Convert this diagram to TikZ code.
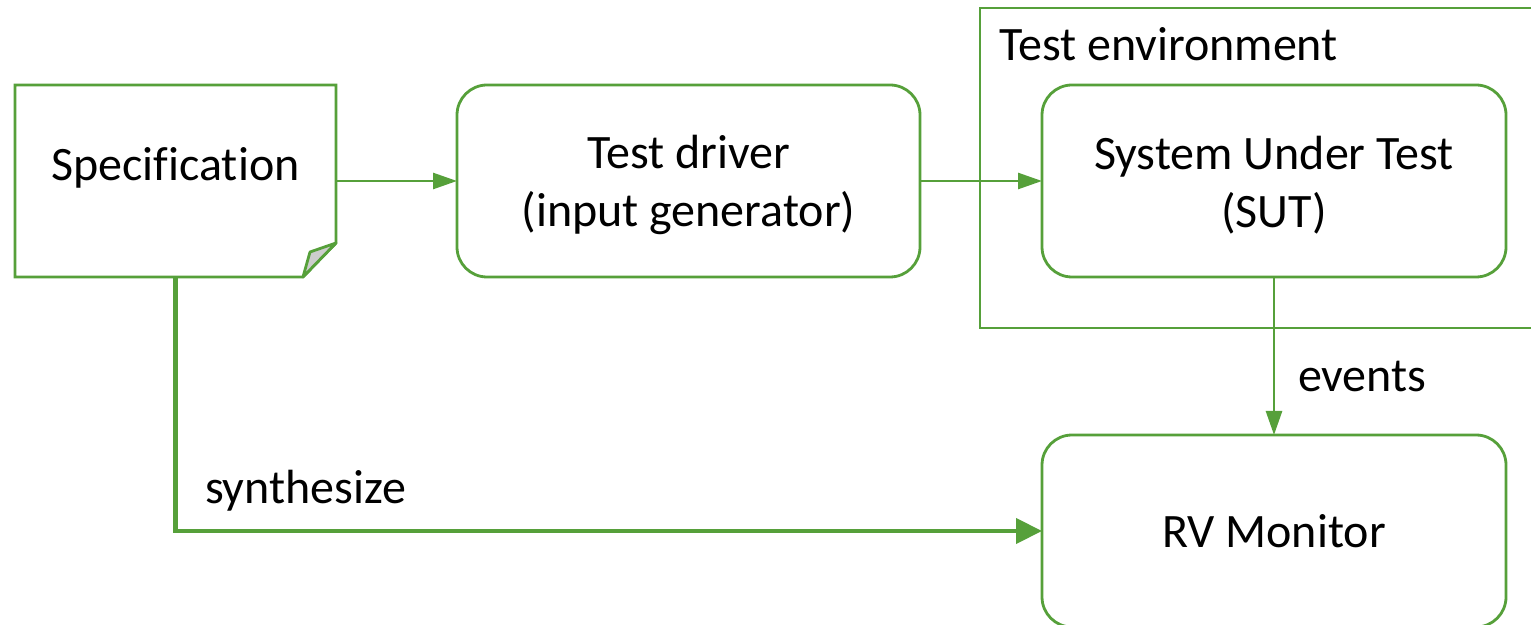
\documentclass[tikz,border=0pt]{standalone}
\usepackage{fontspec}
\setmainfont{Carlito}[Ligatures=CommonOff]
\usetikzlibrary{arrows.meta}
\definecolor{grn}{RGB}{86,160,58}
\definecolor{foldgray}{RGB}{205,205,205}
\newcommand{\toppad}{\rule{0pt}{20.5pt}}
\begin{document}
\begin{tikzpicture}[x=0.5pt,y=-0.5pt,
  every node/.style={font=\fontsize{24pt}{29pt}\selectfont, inner sep=0pt, outer sep=0pt},
  box/.style={draw=grn, line width=1.4pt, rounded corners=15pt, minimum width=232pt, minimum height=96pt, align=center},
  conn/.style={draw=grn, line width=1.3pt, -{Triangle[length=12pt,width=8pt]}},
  thickconn/.style={draw=grn, line width=2.1pt, -{Triangle[length=13pt,width=12.5pt]}},
  lbl/.style={anchor=base west}
]
\useasboundingbox (0,0) rectangle (1531,625);
\clip (0,0) rectangle (1531,625);

% test environment frame
\draw[draw=grn, line width=1.4pt] (980,8) rectangle (1560,328);
\node[lbl] (envlabel) at (999,61) {Test environment};

% specification (document shape)
\node[minimum width=160.5pt, minimum height=96pt] (spec) at (175.5,181) {};
\draw[draw=grn, line width=1.4pt, line join=miter]
  (spec.north west) -- (spec.north east) -- (336,243) -- (303,277) -- (spec.south west) -- cycle;
\draw[draw=grn, line width=1.4pt, fill=foldgray, line join=round]
  (336,243) -- (310,252) -- (303,277) -- cycle;
\node (spectext) at (175.5,168) {Specification};

% boxes
\node[box, minimum width=231.5pt] (driver) at (688.5,181) {\toppad Test driver\\(input generator)};
\node[box] (sut) at (1274,181) {\toppad System Under Test\\(SUT)};
\node[box] (rv) at (1274,531) {RV Monitor};

% connectors
\draw[conn] (spec.east) -- (driver.west);
\draw[conn] (driver.east) -- (sut.west);
\draw[conn] (sut.south) -- (rv.north);
\draw[thickconn] (spec.south) |- (rv.west);

\node[lbl] (events) at (1298,392) {events};
\node[lbl] (synth) at (205,503) {synthesize};
\end{tikzpicture}
\end{document}
